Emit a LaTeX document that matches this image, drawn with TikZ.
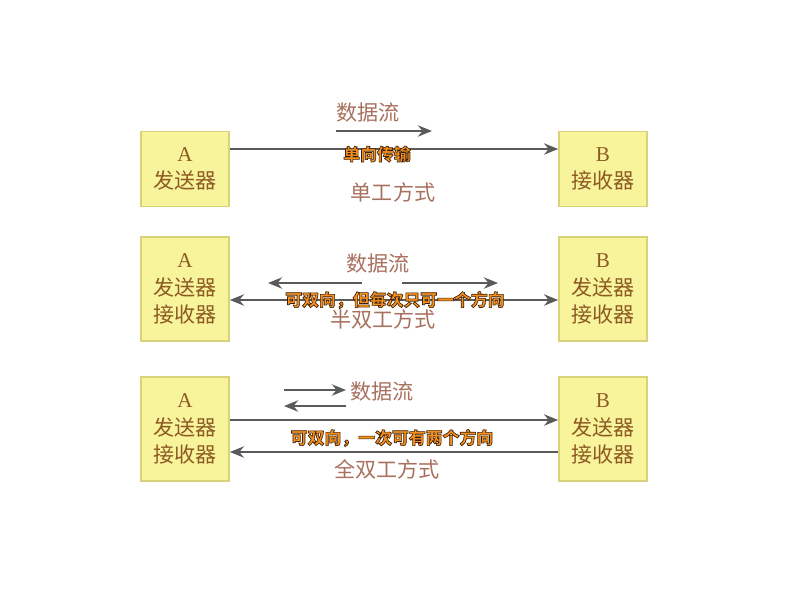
\documentclass[tikz,border=0pt]{standalone}
\usepackage{fontspec}
\setmainfont{Liberation Serif}
\newfontfamily\cjk{Noto Sans CJK SC}
\usetikzlibrary{arrows.meta, calc, positioning}
\definecolor{BoxFill}  {HTML}{F8F49C}
\definecolor{BoxEdge}  {HTML}{D9D27A}
\definecolor{BoxInk}   {HTML}{8E5A24}
\definecolor{FlowInk}  {HTML}{A8705E}
\definecolor{LineGrey} {HTML}{5A5A5A}
\definecolor{TagOrange}{HTML}{F5901E}

% outlined text: fill, then a dark stroke round the glyphs
\newcommand{\outlined}[1]{%
  \special{pdf:literal direct 2 Tr 0.45 w 0.23 0.12 0.03 RG}#1%
  \special{pdf:literal direct 0 Tr}}

\tikzset{
  unitbox/.style={draw=BoxEdge, fill=BoxFill, line width=1.2pt,
        minimum width=2.2cm, text=BoxInk, align=center,
        font=\fontsize{15}{19.5}\selectfont},
  link/.style={draw=LineGrey, line width=2pt,
        -{Stealth[length=10pt,width=8pt]}},
  flowlabel/.style={text=FlowInk, font=\cjk\fontsize{15}{18}\selectfont},
  modelabel/.style={text=FlowInk, font=\cjk\fontsize{15}{18}\selectfont},
  tag/.style={text=TagOrange, inner sep=1pt,
        font=\cjk\bfseries\fontsize{12}{14}\selectfont}
}

\begin{document}
\begin{tikzpicture}[x=0.025cm, y=-0.025cm]
  \useasboundingbox[fill=white] (0,0) rectangle (800,600);
  % Simplex
  \node[unitbox, minimum height=1.875cm] (a1) at (185,169)
        {A\\{\cjk 发送器}};
  \node[unitbox, minimum height=1.875cm] (b1) at (603,169)
        {B\\{\cjk 接收器}};
  \node[flowlabel] (f1) at (368,112) {数据流};
  \coordinate (f1s) at (336,131);
  \coordinate (f1e) at (432,131);
  \draw[link] (f1s) -- (f1e);
  \draw[link] (a1.east |- 0,149) -- (b1.west |- 0,149);
  \node[modelabel] (m1) at (393,192) {单工方式};
  % Half duplex
  \node[unitbox, minimum height=2.6cm] (a2) at (185,289)
        {A\\{\cjk 发送器}\\{\cjk 接收器}};
  \node[unitbox, minimum height=2.6cm] (b2) at (603,289)
        {B\\{\cjk 发送器}\\{\cjk 接收器}};
  \node[flowlabel] (f2) at (378,263) {数据流};
  \coordinate (f2l) at (268,283);
  \coordinate (f2m) at (362,283);
  \coordinate (f2n) at (402,283);
  \coordinate (f2r) at (498,283);
  \draw[link] (f2m) -- (f2l);
  \draw[link] (f2n) -- (f2r);
  \node[modelabel] (m2) at (383,319) {半双工方式};
  \draw[link, {Stealth[length=10pt,width=8pt]}-{Stealth[length=10pt,width=8pt]}]
        (a2.east |- 0,300) -- (b2.west |- 0,300);
  % Full duplex
  \node[unitbox, minimum height=2.6cm] (a3) at (185,429)
        {A\\{\cjk 发送器}\\{\cjk 接收器}};
  \node[unitbox, minimum height=2.6cm] (b3) at (603,429)
        {B\\{\cjk 发送器}\\{\cjk 接收器}};
  \node[flowlabel] (f3) at (382,391) {数据流};
  \coordinate (f3a) at (284,390);
  \coordinate (f3b) at (346,390);
  \coordinate (f3c) at (346,406);
  \coordinate (f3d) at (284,406);
  \draw[link] (f3a) -- (f3b);
  \draw[link] (f3c) -- (f3d);
  \draw[link] (a3.east |- 0,420) -- (b3.west |- 0,420);
  \draw[link] (b3.west |- 0,452) -- (a3.east |- 0,452);
  \node[modelabel] (m3) at (387,469) {全双工方式};
  % Notes on top
  \node[tag] (t1) at (377,154) {\outlined{单向传输}};
  \node[tag] (t2) at (395,300) {\outlined{可双向，但每次只可一个方向}};
  \node[tag] (t3) at (392,438) {\outlined{可双向，一次可有两个方向}};
\end{tikzpicture}
\end{document}
